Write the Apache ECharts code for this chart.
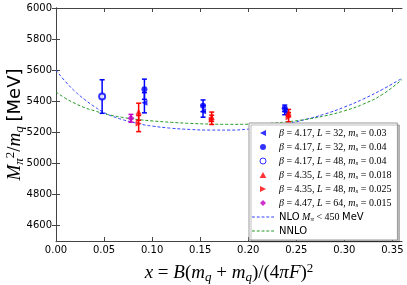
<!DOCTYPE html>
<html><head><meta charset="utf-8">
<script src="https://cdn.jsdelivr.net/npm/echarts@6/dist/echarts.min.js"></script>
<style>html,body{margin:0;padding:0;background:#fff}#c{width:407px;height:285px}</style>
</head><body><div id="c"></div>
<script>
const xTicks = [0, 0.05, 0.10, 0.15, 0.20, 0.25, 0.30, 0.35];
const yTicks = [4600, 4800, 5000, 5200, 5400, 5600, 5800, 6000];

const names = [
  'b417_L32_ms003', 'b417_L32_ms004', 'b417_L48_ms004',
  'b435_L48_ms0018', 'b435_L48_ms0025', 'b447_L64_ms0015',
  'NLO', 'NNLO'
];
const labels = [
  '{i|β} = 4.17, {i|L} = 32, {i|m}{s|s} = 0.03',
  '{i|β} = 4.17, {i|L} = 32, {i|m}{s|s} = 0.04',
  '{i|β} = 4.17, {i|L} = 48, {i|m}{s|s} = 0.04',
  '{i|β} = 4.35, {i|L} = 48, {i|m}{s|s} = 0.018',
  '{i|β} = 4.35, {i|L} = 48, {i|m}{s|s} = 0.025',
  '{i|β} = 4.47, {i|L} = 64, {i|m}{s|s} = 0.015',
  '{n|NLO} {i|M}{s|π} < 450 {n|MeV}',
  '{n|NNLO}'
];

// data: x, y, error
const s1x = [0.092, 0.153, 0.238], s1y = [5390, 5335, 5334], s1e = [65, 38, 21];
const s2x = [0.092, 0.153, 0.238], s2y = [5477, 5370, 5354], s2e = [65, 38, 21];
const s3x = [0.048], s3y = [5430], s3e = [108];
const s4x = [0.086, 0.162, 0.242], s4y = [5332, 5300, 5325], s4e = [55, 30, 22];
const s5x = [0.086, 0.162, 0.242], s5y = [5256, 5280, 5297], s5e = [52, 30, 30];
const s6x = [0.078], s6y = [5290], s6e = [25];

const curveX = [0, 0.01, 0.02, 0.03, 0.04, 0.05, 0.06, 0.07, 0.08, 0.09, 0.10, 0.12, 0.14, 0.16, 0.18, 0.20, 0.22, 0.24, 0.26, 0.28, 0.30, 0.32, 0.34, 0.36];
const nloY  = [5600, 5525, 5462, 5410, 5365, 5327, 5300, 5280, 5264, 5250, 5240, 5226, 5218, 5214, 5214, 5220, 5234, 5255, 5283, 5318, 5362, 5415, 5477, 5548];
const nnloY = [5460, 5418, 5385, 5358, 5338, 5320, 5306, 5295, 5286, 5279, 5273, 5264, 5257, 5253, 5251, 5252, 5257, 5267, 5283, 5306, 5338, 5382, 5445, 5540];

const LEFT_TRI = 'path://M0,5L10,0L10,10Z';
const RIGHT_TRI = 'path://M10,5L0,0L0,10Z';
const UP_TRI = 'path://M5,0L10,9L0,9Z';
const DIAMOND = 'path://M5,0L10,5L5,10L0,5Z';
const DASH = 'path://M0,0h3v1h-3zM5,0h3v1h-3zM10,0h3v1h-3zM15,0h3v1h-3zM20,0h3v1h-3z';

const pts = [
  {x: s1x, y: s1y, e: s1e, color: '#0000ff', symbol: LEFT_TRI, size: 6},
  {x: s2x, y: s2y, e: s2e, color: '#0000ff', symbol: 'circle', size: 6},
  {x: s3x, y: s3y, e: s3e, color: '#0000ff', symbol: 'emptyCircle', size: 6},
  {x: s4x, y: s4y, e: s4e, color: '#ff0000', symbol: UP_TRI, size: 6},
  {x: s5x, y: s5y, e: s5e, color: '#ff0000', symbol: RIGHT_TRI, size: 6},
  {x: s6x, y: s6y, e: s6e, color: '#bf00bf', symbol: DIAMOND, size: 7}
];
const nloColor = '#3344ff', nnloColor = '#229922';

const chart = echarts.init(document.getElementById('c'), null, {renderer: 'canvas'});

const series = [];
series.push({
  name: names[6], type: 'line', data: curveX.map((x, i) => [x, nloY[i]]),
  smooth: true, symbol: 'none', z: 1,
  lineStyle: {color: nloColor, width: 1, type: [3, 2]}, itemStyle: {color: nloColor}
});
series.push({
  name: names[7], type: 'line', data: curveX.map((x, i) => [x, nnloY[i]]),
  smooth: true, symbol: 'none', z: 1,
  lineStyle: {color: nnloColor, width: 1, type: [3, 2]}, itemStyle: {color: nnloColor}
});
pts.forEach((p, k) => {
  series.push({
    name: 'err' + k, type: 'custom', z: 2,
    data: p.x.map((x, i) => [x, p.y[i], p.e[i]]),
    renderItem: function (params, api) {
      const x = api.value(0), y = api.value(1), e = api.value(2);
      const t = api.coord([x, y + e]), b = api.coord([x, y - e]);
      const c = 2.5;
      const st = {stroke: p.color, lineWidth: 1.5};
      return {type: 'group', children: [
        {type: 'line', shape: {x1: t[0], y1: t[1], x2: b[0], y2: b[1]}, style: st},
        {type: 'line', shape: {x1: t[0] - c, y1: t[1], x2: t[0] + c, y2: t[1]}, style: st},
        {type: 'line', shape: {x1: b[0] - c, y1: b[1], x2: b[0] + c, y2: b[1]}, style: st}
      ]};
    }
  });
  series.push({
    name: names[k], type: 'scatter', z: 3,
    data: p.x.map((x, i) => [x, p.y[i]]),
    symbol: p.symbol, symbolSize: p.size,
    itemStyle: p.symbol === 'emptyCircle' ? {color: p.color, borderColor: p.color, borderWidth: 1} : {color: p.color}
  });
});

const serif = 'Liberation Serif';
const sans = 'DejaVu Sans';

const axisCommon = {
  axisLine: {lineStyle: {color: '#444', width: 1}},
  splitLine: {show: false},
};

const legendData = names.map((n, i) => {
  if (i < 6) {
    const open = pts[i].symbol === 'emptyCircle';
    return {name: n, icon: open ? 'circle' : pts[i].symbol,
      itemStyle: open ? {color: '#fff', borderColor: pts[i].color, borderWidth: 1} : {color: pts[i].color, borderWidth: 0}};
  }
  return {name: n, icon: DASH, itemStyle: {color: i === 6 ? nloColor : nnloColor, borderWidth: 0}};
});

chart.setOption({
  animation: false,
  backgroundColor: '#fff',
  grid: {left: 56, right: 5, top: 8, bottom: 44, containLabel: false, outerBoundsMode: 'none'},
  legend: {
    data: legendData,
    orient: 'vertical', left: 249, top: 123,
    padding: [4, 6, 3, 3], itemGap: 2,
    itemWidth: 22, itemHeight: 6,
    backgroundColor: '#fff', borderColor: '#999', borderWidth: 1,
    shadowColor: 'rgba(0,0,0,0.25)', shadowOffsetX: 2, shadowOffsetY: 2,
    formatter: function (name) { return labels[names.indexOf(name)]; },
    textStyle: {
      fontFamily: serif, fontSize: 10, color: '#000', lineHeight: 12,
      rich: {
        i: {fontFamily: serif, fontStyle: 'italic', fontSize: 10, lineHeight: 12},
        s: {fontFamily: serif, fontStyle: 'italic', fontSize: 7, verticalAlign: 'bottom', lineHeight: 9},
        n: {fontFamily: sans, fontSize: 10, lineHeight: 12}
      }
    }
  },
  xAxis: [{
    type: 'value', min: 0, max: 0.36, position: 'bottom',
    ...axisCommon,
    axisTick: {inside: true, length: 4, customValues: xTicks, lineStyle: {color: '#444'}},
    axisLabel: {customValues: xTicks, fontFamily: sans, fontSize: 10, color: '#000', margin: 4,
      formatter: v => v.toFixed(2)},
    name: '{i|x} = {i|B}({i|m}{sb|q} + {i|m}{sb|q})/(4{i|π}{i|F}){sp|2}',
    nameLocation: 'middle', nameGap: 21, nameMoveOverlap: false,
    nameTextStyle: {
      fontFamily: serif, fontSize: 19, color: '#000', lineHeight: 22,
      rich: {
        i: {fontFamily: serif, fontStyle: 'italic', fontSize: 19, lineHeight: 22},
        sb: {fontFamily: serif, fontStyle: 'italic', fontSize: 13, verticalAlign: 'bottom', lineHeight: 14},
        sp: {fontFamily: serif, fontSize: 13, verticalAlign: 'top', lineHeight: 14}
      }
    }
  }, {
    type: 'value', min: 0, max: 0.36, position: 'top',
    ...axisCommon,
    axisTick: {inside: true, length: 4, customValues: xTicks, lineStyle: {color: '#444'}},
    axisLabel: {show: false}
  }],
  yAxis: [{
    type: 'value', min: 4500, max: 6000, position: 'left',
    ...axisCommon,
    axisTick: {inside: true, length: 4, customValues: yTicks, lineStyle: {color: '#444'}},
    axisLabel: {customValues: yTicks, fontFamily: sans, fontSize: 10, color: '#000', margin: 4,
      formatter: v => String(v)},
    name: '{i|M}{sb|π}{sp|2}/{i|m}{sb|q} {n|[MeV]}',
    nameLocation: 'middle', nameRotate: 90, nameGap: 30, nameMoveOverlap: false,
    nameTextStyle: {
      fontFamily: serif, fontSize: 19, color: '#000', lineHeight: 22,
      rich: {
        i: {fontFamily: serif, fontStyle: 'italic', fontSize: 19, lineHeight: 22},
        sb: {fontFamily: serif, fontStyle: 'italic', fontSize: 13, verticalAlign: 'bottom', lineHeight: 14},
        sp: {fontFamily: serif, fontSize: 13, verticalAlign: 'top', lineHeight: 14},
        n: {fontFamily: sans, fontSize: 18, lineHeight: 22}
      }
    }
  }, {
    type: 'value', min: 4500, max: 6000, position: 'right',
    ...axisCommon,
    axisTick: {inside: true, length: 4, customValues: yTicks, lineStyle: {color: '#444'}},
    axisLabel: {show: false}
  }],
  series: series
});
</script>
</body></html>
